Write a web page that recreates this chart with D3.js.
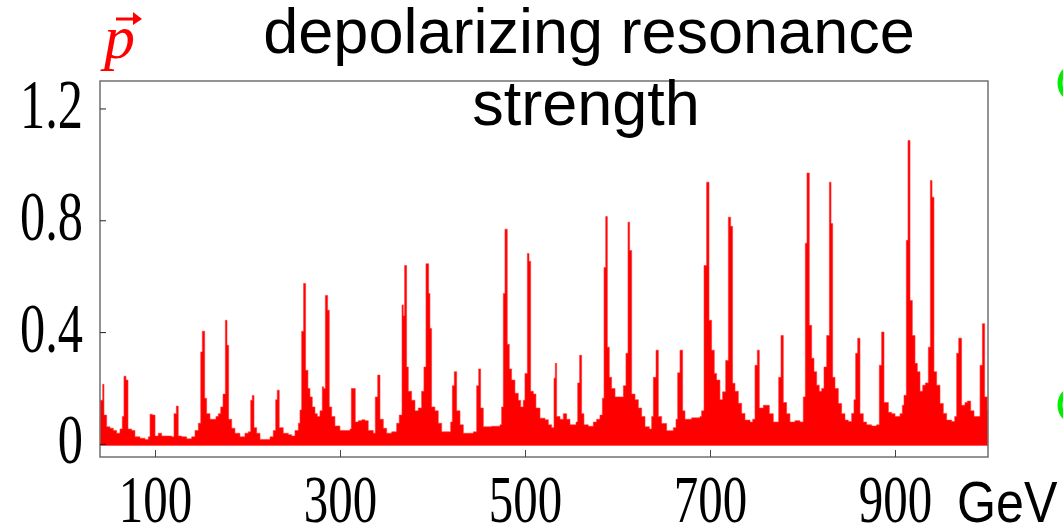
<!DOCTYPE html>
<html>
    <head>
        <script src="https://cdnjs.cloudflare.com/ajax/libs/d3/7.8.5/d3.min.js"></script>
        <title>Depolarizing resonance strength</title>
        <style>
            html, body {
                margin: 0;
                background: #fff;
            }
            svg {
                display: block;
            }
        </style>
    </head>
    <body>
        <svg width="1063" height="529"></svg>

        <script>
            // beam energy (GeV) and resonance strength
            var energy = [
                40.0, 42.9, 44.3, 47.2, 50.8, 54.4, 58.0, 61.6, 64.1, 65.9, 68.1, 70.3, 74.3, 77.8, 83.2, 88.6, 92.2,
                94.1, 96.5, 99.5, 103.0, 106.7, 112.1, 117.5, 120.0, 122.5, 124.6, 128.3, 133.7, 139.1, 142.7, 146.3,
                148.9, 150.6, 153.2, 155.3, 158.9, 162.5, 165.4, 167.9, 170.5, 173.0, 175.5, 177.3, 179.1, 182.4, 185.9,
                191.3, 196.7, 200.3, 202.9, 204.6, 206.5, 209.4, 213.0, 218.4, 223.8, 227.3, 229.9, 231.6, 233.8, 238.1,
                243.6, 247.2, 250.8, 254.4, 256.2, 258.0, 260.1, 262.3, 264.8, 267.0, 269.5, 272.4, 274.9, 277.8, 280.3,
                281.8, 283.6, 286.1, 287.9, 290.5, 294.0, 299.4, 306.7, 310.3, 311.7, 313.8, 316.0, 319.2, 322.9, 326.5,
                330.0, 335.4, 337.6, 340.2, 342.7, 346.3, 349.9, 355.3, 360.7, 363.5,
                366.5, 367.9, 369.3, 371.5, 373.3, 376.9, 380.5, 384.1, 387.7, 390.2, 392.4, 395.3, 396.7, 398.5, 402.1,
                405.7, 409.4, 416.6, 419.1, 420.9, 423.0, 425.6, 429.2, 432.8, 443.6, 447.2, 449.4, 451.5, 454.4, 463.4,
                472.4, 474.2, 476.0, 477.8, 480.3, 482.5, 485.0, 488.6, 492.2, 494.8, 497.6, 499.4, 502.0, 503.8, 505.6,
                508.5, 511.3, 515.7, 521.1, 524.7, 528.3, 530.8, 532.2, 533.7, 537.3, 540.9, 544.5, 548.1, 551.7, 554.6,
                556.4, 558.5, 560.7, 563.2, 567.9, 573.3, 576.9, 580.5, 583.1, 584.9, 586.7, 588.5, 590.6, 593.1, 596.8,
                602.2, 605.8, 608.6, 610.8, 612.6, 614.8, 618.4, 622.0, 625.6, 629.2, 633.9, 636.4, 638.2, 641.1, 643.6,
                647.2, 652.6, 659.8, 662.7, 664.5, 667.0, 669.9, 672.4, 679.6, 688.6, 690.4, 693.0, 695.8, 698.4, 701.2,
                704.1, 706.6, 710.2, 713.1, 716.4, 719.3, 721.8, 723.9, 726.5, 730.1, 733.7, 737.3, 742.7, 745.6, 748.1,
                750.6, 752.8, 757.1, 760.0, 763.6, 767.9, 771.5, 773.7, 776.2, 778.7, 782.3, 785.9, 791.3, 796.7, 800.3,
                802.5, 804.3, 806.8, 809.4, 811.9, 814.8, 817.6, 820.2, 822.7, 825.6, 828.5, 830.3, 832.1, 834.6, 838.2,
                841.8, 845.4, 849.0, 852.6, 855.1, 856.9, 859.1, 861.6, 865.2, 868.8, 874.2, 879.6, 882.5, 885.0, 887.6,
                892.3, 895.9, 899.5, 904.9, 907.4, 909.2, 911.7, 913.5, 915.7, 918.2, 921.1, 923.6, 926.5, 929.4, 932.3,
                935.5, 937.7, 939.5, 941.6, 944.5, 948.1, 951.7, 955.3, 960.7, 964.0, 966.1, 968.3, 971.5, 975.1, 977.7,
                981.3, 984.9, 988.5, 991.4, 993.9, 996.4, 999.3, 1000.0
            ];
            var strength = [
                0.158, 0.215, 0.105, 0.063, 0.058, 0.050, 0.040, 0.055, 0.100, 0.244, 0.230, 0.055, 0.050, 0.027, 0.022, 0.018, 0.027,
                0.108, 0.105, 0.030, 0.040, 0.030, 0.030, 0.027, 0.110, 0.137, 0.030, 0.027, 0.020, 0.027, 0.050, 0.076,
                0.331, 0.405, 0.165, 0.110, 0.090, 0.090, 0.100, 0.110, 0.134, 0.180, 0.444, 0.355, 0.090, 0.058, 0.040,
                0.027, 0.040, 0.045, 0.158, 0.175, 0.060, 0.040, 0.018, 0.018, 0.027, 0.050, 0.160, 0.194, 0.060, 0.040,
                0.035, 0.030, 0.050, 0.076, 0.123, 0.405, 0.576, 0.265, 0.200, 0.170, 0.134, 0.110, 0.100, 0.120, 0.206,
                0.200, 0.533, 0.480, 0.134, 0.100, 0.066, 0.050, 0.050, 0.055, 0.200, 0.200, 0.080, 0.085, 0.088, 0.085,
                0.050, 0.040, 0.170, 0.248, 0.090, 0.058, 0.040, 0.045, 0.076, 0.105,
                0.499, 0.460, 0.640, 0.277, 0.190, 0.158, 0.120, 0.130, 0.190, 0.277, 0.646, 0.540, 0.415, 0.134, 0.120,
                0.076, 0.045, 0.045, 0.080, 0.210, 0.260, 0.120, 0.070, 0.040, 0.045, 0.210, 0.270, 0.130, 0.063, 0.065,
                0.070, 0.134, 0.540, 0.770, 0.358, 0.270, 0.230, 0.183, 0.158, 0.134, 0.158, 0.254, 0.683, 0.655, 0.190,
                0.180, 0.130, 0.094, 0.088, 0.070, 0.060, 0.237, 0.290, 0.100, 0.090, 0.110, 0.090, 0.070, 0.070, 0.080,
                0.220, 0.319, 0.110, 0.070, 0.065, 0.080, 0.090, 0.105, 0.165, 0.633, 0.815, 0.348, 0.240, 0.200, 0.170,
                0.170, 0.210, 0.326, 0.795, 0.694, 0.180, 0.160, 0.130, 0.100, 0.063, 0.055, 0.100, 0.240, 0.337, 0.100,
                0.075, 0.049, 0.060, 0.090, 0.256, 0.337, 0.120, 0.090, 0.095, 0.100, 0.120, 0.640, 0.938, 0.444, 0.337,
                0.254, 0.230, 0.160, 0.188, 0.300, 0.813, 0.780, 0.219, 0.190, 0.147, 0.111, 0.087, 0.080, 0.090, 0.283,
                0.337, 0.130, 0.140, 0.140, 0.110, 0.080, 0.080, 0.240, 0.390, 0.150, 0.110, 0.080, 0.085, 0.080, 0.170,
                0.720, 0.971, 0.426, 0.308, 0.260, 0.212, 0.190, 0.200, 0.277, 0.390, 0.938, 0.790, 0.240, 0.200, 0.146,
                0.110, 0.087, 0.082, 0.111, 0.160, 0.326, 0.380, 0.110, 0.080, 0.070, 0.066, 0.070, 0.283, 0.402, 0.150,
                0.115, 0.110, 0.100, 0.110, 0.140, 0.176, 0.730, 1.087, 0.515, 0.390, 0.290, 0.260, 0.190, 0.212, 0.220,
                0.348, 0.944, 0.884, 0.260, 0.212, 0.146, 0.111, 0.087, 0.082, 0.100, 0.326, 0.380, 0.140, 0.150, 0.155,
                0.120, 0.100, 0.100, 0.283, 0.432, 0.170, 0.123, 0.123
            ];
            var xTicks = [100, 300, 500, 700, 900];
            var yTicks = [0, 0.4, 0.8, 1.2];
            var yTickLabels = ["0", "0.4", "0.8", "1.2"];
            var titleLines = ["depolarizing resonance", "strength"];

            var data = energy.map(function(e, i) { return {e: e, s: strength[i]}; });

            var plotL = 100, plotR = 988, plotT = 81, plotB = 457;

            var x = d3.scaleLinear().domain([40, 1000]).range([plotL, plotR]);
            var y = d3.scaleLinear().domain([-0.045, 1.3]).range([plotB, plotT]);

            var svg = d3.select("svg");

            svg.append("clipPath").attr("id", "plot")
                .append("rect")
                .attr("x", plotL).attr("y", plotT)
                .attr("width", plotR - plotL).attr("height", plotB - plotT);

            var area = d3.area()
                .curve(d3.curveStepAfter)
                .x(function(d) { return x(d.e); })
                .y0(y(0) + 1)
                .y1(function(d) { return y(d.s); });

            svg.append("path")
                .datum(data)
                .attr("clip-path", "url(#plot)")
                .attr("d", area)
                .attr("fill", "#ff0000")
                .attr("stroke", "#ff3030")
                .attr("stroke-width", 0.6);

            // frame
            svg.append("rect")
                .attr("x", plotL).attr("y", plotT)
                .attr("width", plotR - plotL).attr("height", plotB - plotT)
                .attr("fill", "none")
                .attr("stroke", "#707070")
                .attr("stroke-width", 1.5);

            // inward ticks
            svg.selectAll(".xtick").data(xTicks).enter()
                .append("line")
                .attr("x1", function(d) { return x(d); }).attr("x2", function(d) { return x(d); })
                .attr("y1", plotB).attr("y2", plotB - 7)
                .attr("stroke", "#444").attr("stroke-width", 1);

            svg.selectAll(".ytick").data(yTicks).enter()
                .append("line")
                .attr("x1", plotL).attr("x2", plotL + 6)
                .attr("y1", function(d) { return y(d); }).attr("y2", function(d) { return y(d); })
                .attr("stroke", "#222").attr("stroke-width", 1);

            svg.selectAll(".xlabel").data(xTicks).enter()
                .append("text")
                .attr("transform", function(d) { return "translate(" + x(d) + ",522) scale(0.72,1)"; })
                .attr("text-anchor", "middle")
                .style("font-family", "'Liberation Serif', 'DejaVu Serif', serif")
                .style("font-size", "68px")
                .attr("fill", "#000")
                .text(function(d) { return d; });

            svg.selectAll(".ylabel").data(yTicks).enter()
                .append("text")
                .attr("transform", function(d) { return "translate(83," + (y(d) + 19) + ") scale(0.72,1)"; })
                .attr("text-anchor", "end")
                .style("font-family", "'Liberation Serif', 'DejaVu Serif', serif")
                .style("font-size", "70px")
                .attr("fill", "#000")
                .text(function(d, i) { return yTickLabels[i]; });

            svg.append("text")
                .attr("transform", "translate(957,522) scale(0.88,1)")
                .style("font-family", "'Liberation Sans', Arial, sans-serif")
                .style("font-size", "57px")
                .attr("fill", "#000")
                .text("GeV");

            // title
            svg.selectAll(".title").data(titleLines).enter()
                .append("text")
                .attr("x", function(d, i) { return i === 0 ? 589 : 586; })
                .attr("y", function(d, i) { return 53 + i * 72; })
                .attr("text-anchor", "middle")
                .style("font-family", "'Liberation Sans', Arial, sans-serif")
                .style("font-size", "63px")
                .attr("fill", "#000")
                .text(function(d) { return d; });

            // red p with vector arrow
            svg.append("text")
                .attr("x", 104).attr("y", 58)
                .style("font-family", "'Liberation Serif', serif")
                .style("font-style", "italic")
                .style("font-size", "62px")
                .attr("fill", "#ff0000")
                .text("p");
            svg.append("line")
                .attr("x1", 116).attr("x2", 138).attr("y1", 19).attr("y2", 19)
                .attr("stroke", "#ff0000").attr("stroke-width", 3);
            svg.append("path")
                .attr("d", "M133,12 L142,19 L133,25 Z")
                .attr("fill", "#ff0000");

            // green marks cut by the right edge
            svg.selectAll(".dot").data([83, 405]).enter()
                .append("circle")
                .attr("cx", 1078).attr("cy", function(d) { return d; })
                .attr("r", 18)
                .attr("fill", "none")
                .attr("stroke", "#00ee00")
                .attr("stroke-width", 5);
        </script>
    </body>
</html>
